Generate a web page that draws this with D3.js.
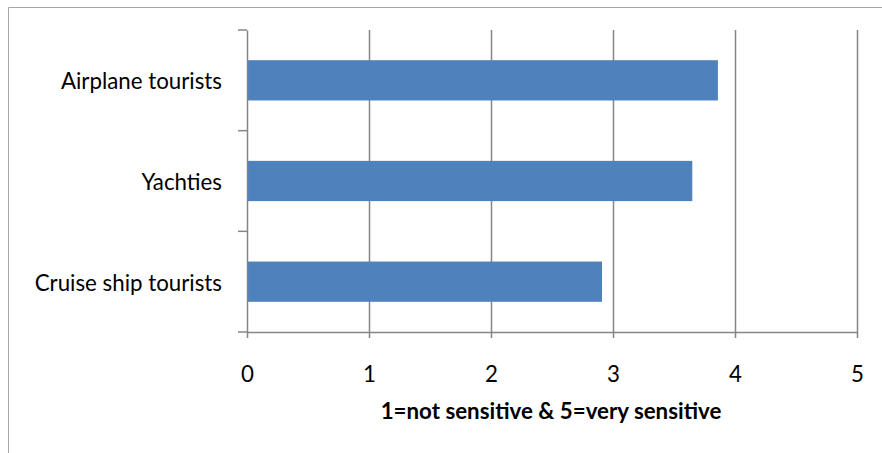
<!DOCTYPE html>
<html><head><meta charset="utf-8">
<script src="https://cdn.jsdelivr.net/npm/d3@7"></script>
<style>body{margin:0;background:#fff}svg{display:block}text{font-family:Lato,"Open Sans",sans-serif;fill:#000}</style>
</head><body>
<svg id="c" width="882" height="453"></svg>
<script>
const categories = ["Airplane tourists", "Yachties", "Cruise ship tourists"];
const values = [3.86, 3.65, 2.91];
const xTicks = [0, 1, 2, 3, 4, 5];
const xTitle = "1=not sensitive & 5=very sensitive";

const svg = d3.select("#c");
const W = 882, H = 453;
const m = {left: 247, right: 857, top: 30, bottom: 332};
const FS = 22.3;

svg.append("path").attr("d", `M8.5,${H} L8.5,7.5 L${W},7.5`).attr("fill","none").attr("stroke","#a6a6a6").attr("stroke-width",1);

const x = d3.scaleLinear().domain([0,5]).range([m.left, m.right]);
const y = d3.scaleBand().domain(categories).range([m.top, m.bottom]).paddingInner(0.6).paddingOuter(0.3);
const yRow = d3.scaleBand().domain(categories).range([m.top, m.bottom]);

svg.append("g").selectAll("line").data(xTicks.slice(1)).join("line")
  .attr("x1", d=>Math.round(x(d))+0.5).attr("x2", d=>Math.round(x(d))+0.5)
  .attr("y1", m.top).attr("y2", m.bottom)
  .attr("stroke","#868686").attr("stroke-width",1.5);

svg.append("g").selectAll("rect").data(values).join("rect")
  .attr("x", x(0)).attr("y", (d,i)=>y(categories[i]))
  .attr("width", d=>x(d)-x(0)).attr("height", y.bandwidth())
  .attr("fill","#4f81bd");

const xa = svg.append("g").attr("transform",`translate(0,${m.bottom})`)
  .call(d3.axisBottom(x).tickValues(xTicks).tickFormat(d3.format("d")).tickSize(6).tickPadding(28).tickSizeOuter(0));
xa.select(".domain").attr("stroke","#868686").attr("stroke-width",1.5);
xa.selectAll(".tick line").attr("stroke","#868686").attr("stroke-width",1.5);
xa.selectAll(".tick text").attr("font-size",FS).attr("font-family","Lato, sans-serif");

const ya = svg.append("g").attr("transform",`translate(${m.left},0)`)
  .call(d3.axisLeft(yRow).tickSize(0).tickPadding(25));
ya.select(".domain").attr("stroke","#868686").attr("stroke-width",1.5);
ya.selectAll(".tick text").attr("font-size",FS).attr("font-family","Lato, sans-serif").attr("dy","0.4em");
const bounds = [m.top, ...categories.map(c=>yRow(c)+yRow.bandwidth())];
ya.selectAll(".bt").data(bounds).join("line").attr("class","bt")
  .attr("x1",-9).attr("x2",0).attr("y1",d=>d).attr("y2",d=>d)
  .attr("stroke","#868686").attr("stroke-width",1.5);

svg.append("text").attr("x", 551).attr("y", 419)
  .attr("text-anchor","middle").attr("font-size",FS).attr("font-weight","bold")
  .text(xTitle);
</script>
</body></html>
